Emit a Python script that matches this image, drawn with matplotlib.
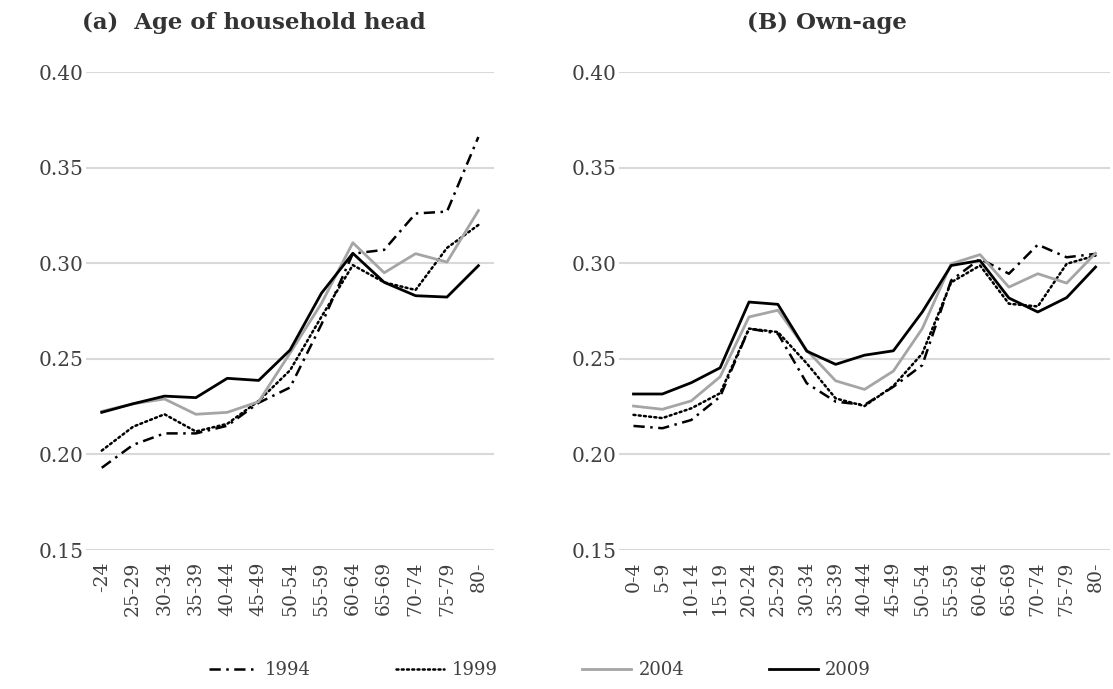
import matplotlib.pyplot as plt
import numpy as np

# categories
head_ages = ['-24', '25-29', '30-34', '35-39', '40-44', '45-49', '50-54',
             '55-59', '60-64', '65-69', '70-74', '75-79', '80-']
own_ages = ['0-4', '5-9', '10-14', '15-19', '20-24', '25-29', '30-34', '35-39',
            '40-44', '45-49', '50-54', '55-59', '60-64', '65-69', '70-74',
            '75-79', '80-']
years = ['1994', '1999', '2004', '2009']

# (a) age of household head
head_1994 = [0.193, 0.205, 0.211, 0.211, 0.215, 0.227, 0.235, 0.268, 0.305, 0.307, 0.326, 0.327, 0.366]
head_1999 = [0.202, 0.2145, 0.221, 0.212, 0.216, 0.228, 0.244, 0.272, 0.299, 0.290, 0.286, 0.308, 0.320]
head_2004 = [0.2225, 0.2265, 0.229, 0.221, 0.222, 0.2276, 0.253, 0.279, 0.3107, 0.295, 0.305, 0.3006, 0.3275]
head_2009 = [0.222, 0.2265, 0.2305, 0.2297, 0.2398, 0.2387, 0.2546, 0.2843, 0.3052, 0.290, 0.283, 0.2823, 0.2987]

# (B) own-age
own_1994 = [0.2149, 0.2137, 0.218, 0.2302, 0.2658, 0.2632, 0.2372, 0.2276, 0.2259, 0.2354, 0.2467, 0.291, 0.3023, 0.2945, 0.3097, 0.3031, 0.3049]
own_1999 = [0.2207, 0.219, 0.2241, 0.232, 0.2658, 0.264, 0.2476, 0.2293, 0.2253, 0.2358, 0.2528, 0.290, 0.2988, 0.2788, 0.2774, 0.2997, 0.304]
own_2004 = [0.2253, 0.2236, 0.228, 0.2406, 0.2719, 0.2754, 0.2545, 0.2385, 0.234, 0.2436, 0.2658, 0.2997, 0.3045, 0.2875, 0.2945, 0.2896, 0.3052]
own_2009 = [0.2316, 0.2316, 0.2375, 0.2453, 0.2797, 0.2785, 0.254, 0.2471, 0.2519, 0.2542, 0.2745, 0.2988, 0.3014, 0.2818, 0.2745, 0.282, 0.298]

yticks = [0.15, 0.20, 0.25, 0.30, 0.35, 0.40]

plt.rcParams['font.family'] = ['DejaVu Serif']

styles = [
    dict(color='black', lw=1.8, dashes=(4.5, 2.2, 1, 2.2)),
    dict(color='black', lw=1.8, dashes=(0.8, 1.3), dash_capstyle='round'),
    dict(color='#a5a5a5', lw=2.0),
    dict(color='black', lw=2.0),
]

fig = plt.figure(figsize=(11.13, 6.89), dpi=100)
ax1 = fig.add_axes([0.0773, 0.2017, 0.3666, 0.6938])
ax2 = fig.add_axes([0.5562, 0.2017, 0.4411, 0.6938])

for ax, cats, series in [(ax1, head_ages, [head_1994, head_1999, head_2004, head_2009]),
                         (ax2, own_ages, [own_1994, own_1999, own_2004, own_2009])]:
    x = np.arange(len(cats))
    for s, st, yr in zip(series, styles, years):
        ax.plot(x, s, label=yr, **st)
    ax.set_xlim(-0.5, len(cats) - 0.5)
    ax.set_ylim(0.15, 0.40)
    ax.set_yticks(yticks)
    ax.set_yticklabels(['%.2f' % v for v in yticks], fontsize=14.5, color='#404040')
    ax.set_xticks(x)
    ax.set_xticklabels(cats, rotation=90, fontsize=13.5, color='#404040')
    ax.grid(axis='y', color='#d9d9d9', lw=1.5)
    ax.set_axisbelow(True)
    for sp in ax.spines.values():
        sp.set_visible(False)
    ax.tick_params(length=0, pad=2)
    ax.tick_params(axis='x', pad=8)

fig.text(0.228, 0.966, '(a)  Age of household head', ha='center', va='center',
         fontsize=16.5, fontweight='bold', color='#333333')
fig.text(0.743, 0.966, '(B) Own-age', ha='center', va='center',
         fontsize=16.5, fontweight='bold', color='#333333')

handles, labels = ax1.get_legend_handles_labels()
fig.legend(handles, labels, loc='center', bbox_to_anchor=(0.485, 0.027), ncol=4,
           frameon=False, fontsize=13, handlelength=2.7, handletextpad=0.4,
           columnspacing=4.7, labelcolor='#404040')

fig.savefig('out.png', dpi=100, facecolor='white')
